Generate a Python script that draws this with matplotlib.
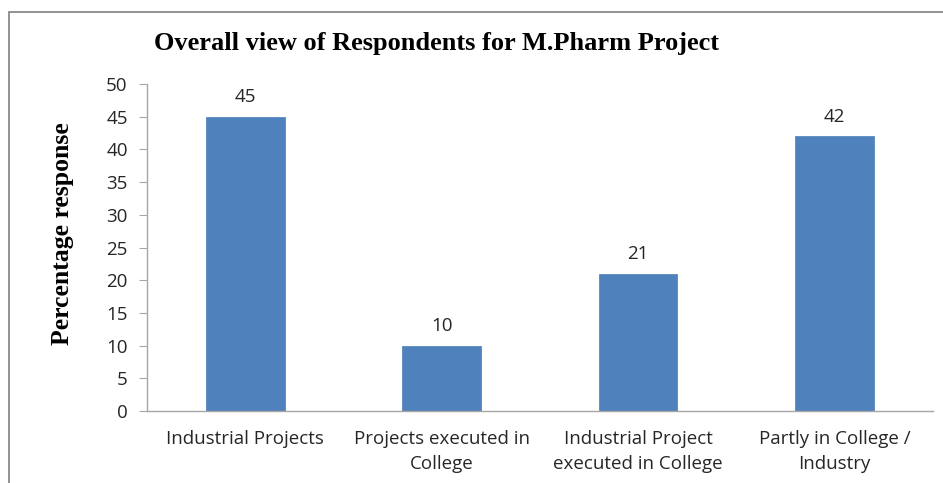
import matplotlib.pyplot as plt
from matplotlib.patches import Rectangle

categories = ['Industrial Projects', 'Projects executed in\nCollege',
              'Industrial Project\nexecuted in College', 'Partly in College /\nIndustry']
values = [45, 10, 21, 42]
yticks = [0, 5, 10, 15, 20, 25, 30, 35, 40, 45, 50]

fig = plt.figure(figsize=(9.43, 4.83), dpi=100)
ax = fig.add_axes([0.156, 0.149, 0.833, 0.677])

x = range(len(values))
bars = ax.bar(x, values, width=0.40, color='#4F81BD', edgecolor='#4A7EBB', linewidth=0.5)

for i, v in enumerate(values):
    ax.text(i, v + 1.6, str(v), ha='center', va='bottom',
            fontsize=13.5, family='Open Sans', color='#262626')

ax.set_xlim(-0.5, len(values) - 0.5)
ax.set_ylim(0, 50)
ax.set_yticks(yticks)
ax.set_xticks(list(x))
ax.set_xticklabels(categories, fontsize=13.5, family='Open Sans', color='#262626',
                   linespacing=1.45)
for lab in ax.get_yticklabels():
    lab.set_fontsize(13.5)
    lab.set_family('Open Sans')
    lab.set_color('#262626')

for s in ['top', 'right']:
    ax.spines[s].set_visible(False)
for s in ['left', 'bottom']:
    ax.spines[s].set_color('#A6A6A6')
    ax.spines[s].set_linewidth(1.0)
ax.tick_params(axis='y', length=6, color='#A6A6A6', pad=8)
ax.tick_params(axis='x', length=0, pad=14)

ax.set_ylabel('Percentage response', family='Liberation Serif', fontweight='bold',
              fontsize=18.5)
ax.yaxis.set_label_coords(-0.093, 0.544)
fig.text(0.463, 0.91, 'Overall view of Respondents for M.Pharm Project',
         ha='center', va='center', family='Liberation Serif', fontweight='bold', fontsize=19)

fig.patches.append(Rectangle((9 / 943, -0.1), 1.1, 1 - 12 / 483 + 0.1,
                             transform=fig.transFigure, fill=False,
                             edgecolor='#808080', linewidth=1.2))

fig.savefig('out.png', dpi=100)
